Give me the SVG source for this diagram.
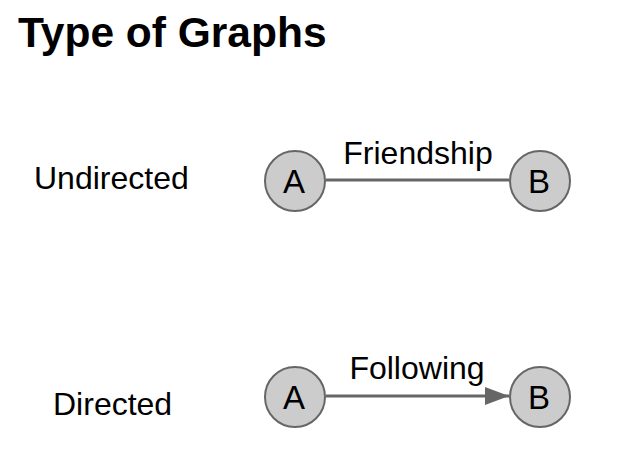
<svg xmlns="http://www.w3.org/2000/svg" width="618" height="449" viewBox="0 0 618 449">
<style>
text{font-family:"Liberation Sans",Arial,sans-serif;fill:#000}
.t{font-size:32px}
.title{font-size:42.5px;font-weight:bold}
.node circle{fill:#cccccc;stroke:#666666;stroke-width:2}
.node text{font-size:33px;text-anchor:middle}
.edge{stroke:#666666;stroke-width:3;fill:none}
</style>
<defs>
<marker id="arr" markerWidth="8" markerHeight="6" refX="8" refY="3" orient="auto" markerUnits="strokeWidth">
<path d="M0,0 L8,3 L0,6 Z" fill="#666666"/>
</marker>
</defs>
<rect width="618" height="449" fill="#ffffff"/>
<text class="title" x="18" y="47">Type of Graphs</text>
<text class="t" x="34" y="189">Undirected</text>
<text class="t" x="53" y="415">Directed</text>
<g id="connectors">
<line class="edge" x1="326" y1="180" x2="509" y2="180"/>
<text class="t" x="418" y="164" text-anchor="middle">Friendship</text>
<line class="edge" x1="326" y1="396" x2="509" y2="396" marker-end="url(#arr)"/>
<text class="t" x="417" y="379" text-anchor="middle">Following</text>
</g>
<g id="nodeA1" class="node"><circle cx="295" cy="181" r="30"/><text x="294" y="193">A</text></g>
<g id="nodeB1" class="node"><circle cx="540" cy="181" r="30"/><text x="539" y="193">B</text></g>
<g id="nodeA2" class="node"><circle cx="295" cy="397" r="30"/><text x="294" y="409">A</text></g>
<g id="nodeB2" class="node"><circle cx="540" cy="397" r="30"/><text x="539" y="409">B</text></g>
</svg>
